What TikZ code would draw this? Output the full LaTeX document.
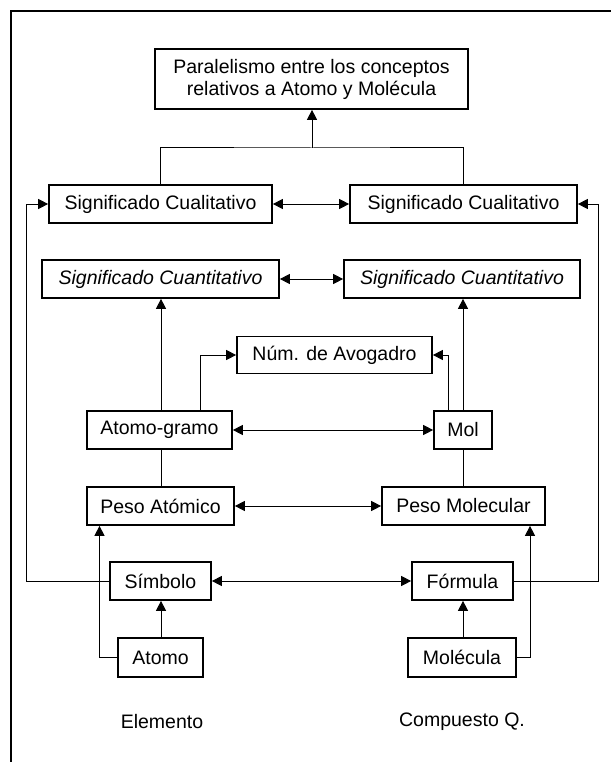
\documentclass[tikz,border=0pt]{standalone}
\usepackage{fontspec}
\setmainfont{Liberation Sans}
\usetikzlibrary{arrows.meta}
\begin{document}
\begin{tikzpicture}[x=1pt,y=1pt,
  box/.style={draw, line width=1.7pt, inner sep=0pt, align=center,
    font=\fontsize{19.5}{22}\selectfont},
  lbl/.style={inner sep=0pt, font=\fontsize{19.5}{22}\selectfont},
  conn/.style={line width=1pt},
  arr/.style={conn, -{Triangle[length=10pt,width=10pt]}},
  darr/.style={conn, {Triangle[length=10pt,width=10pt]}-{Triangle[length=10pt,width=10pt]}}
]
\useasboundingbox (0,0) rectangle (611,-762);
% frame
\draw[line width=1.6pt] (11,-762) -- (11,-11) -- (611,-11);

% boxes
\node[box, minimum width=313, minimum height=60] (title) at (311.5,-79)
  {Paralelismo entre los conceptos\\relativos a Atomo y Molécula};
\node[box, minimum width=223, minimum height=38] (sqL) at (160.5,-204) {Significado Cualitativo};
\node[box, minimum width=227, minimum height=38] (sqR) at (463.5,-204) {Significado Cualitativo};
\node[box, minimum width=237, minimum height=38] (cnL) at (160.5,-279) {\itshape Significado Cuantitativo};
\node[box, minimum width=236, minimum height=38] (cnR) at (462,-279) {\itshape Significado Cuantitativo};
\node[box, minimum width=195, minimum height=37] (avo) at (334.5,-355) {Núm. de Avogadro};
\node[box, minimum width=145, minimum height=38] (atg) at (159.5,-430) {Atomo-gramo};
\node[box, minimum width=58, minimum height=38] (mol) at (463,-430) {Mol};
\node[box, minimum width=147, minimum height=38] (pa) at (160.5,-506) {Peso Atómico};
\node[box, minimum width=163, minimum height=38] (pm) at (463.5,-506) {Peso Molecular};
\node[box, minimum width=101, minimum height=38] (sim) at (160.5,-581) {Símbolo};
\node[box, minimum width=101, minimum height=38] (frm) at (462.5,-581) {Fórmula};
\node[box, minimum width=85, minimum height=39] (ato) at (160.5,-657.5) {Atomo};
\node[box, minimum width=108, minimum height=39] (mlc) at (462,-657.5) {Molécula};
\node[lbl] (elem) at (162,-722) {Elemento};
\node[lbl] (comp) at (462,-722) {Compuesto Q.};

% helper x positions
\coordinate (jy) at (312,-148);
\coordinate (cL) at (161,0);
\coordinate (cR) at (463,0);
\coordinate (ax) at (200,0);
\coordinate (bx) at (448,0);
\coordinate (px) at (99.5,0);
\coordinate (qx) at (530,0);
\coordinate (lx) at (26,0);
\coordinate (rx) at (598,0);

% top join
\draw[conn] (sqL.north) |- (jy) -| (sqR.north);
\draw[arr] (jy) -- (title.south -| jy);

% horizontal double arrows
\draw[darr] (sqL.east) -- (sqR.west);
\draw[darr] (cnL.east) -- (cnR.west);
\draw[darr] (atg.east) -- (mol.west);
\draw[darr] (pa.east) -- (pm.west);
\draw[darr] (sim.east) -- (frm.west);

% verticals left column
\draw[arr] (atg.north -| cL) -- (cnL.south -| cL);
\draw[arr] (atg.north -| ax) |- (avo.west);
\draw[conn] (atg.south -| cL) -- (pa.north -| cL);
\draw[arr] (ato.north -| cL) -- (sim.south -| cL);
\draw[arr] (ato.west) -| (pa.south -| px);
\draw[arr] (sim.west) -- (sim.west -| lx) |- (sqL.west);

% verticals right column
\draw[arr] (mol.north -| cR) -- (cnR.south -| cR);
\draw[arr] (mol.north -| bx) |- (avo.east);
\draw[conn] (mol.south -| cR) -- (pm.north -| cR);
\draw[arr] (mlc.north -| cR) -- (frm.south -| cR);
\draw[arr] (mlc.east) -| (pm.south -| qx);
\draw[arr] (frm.east) -- (frm.east -| rx) |- (sqR.east);
\end{tikzpicture}
\end{document}
